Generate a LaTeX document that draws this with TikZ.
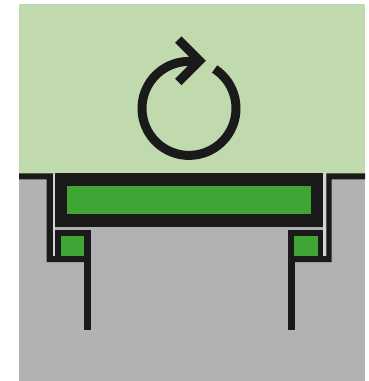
\documentclass[tikz,border=0pt]{standalone}
\usetikzlibrary{calc}
\definecolor{roomGreen}{HTML}{C1DAAD}
\definecolor{wallGrey}{HTML}{B1B2B4}
\definecolor{sealGreen}{HTML}{3FA535}
\definecolor{frameBlack}{HTML}{1A1A1A}
\definecolor{gapGrey}{HTML}{D4D5D6}
\begin{document}
\begin{tikzpicture}[x=1pt, y=-1pt,
    frame/.style={fill=frameBlack},
    seal/.style={fill=sealGreen},
    symbol/.style={draw=frameBlack, line width=9pt}]
    \useasboundingbox (0,0) rectangle (368,381);
    % backgrounds
    \fill[roomGreen] (19,4) rectangle (365,173.5);
    \fill[wallGrey] (19,173.5) rectangle (365,381);
    % outer walls with the slot
    \fill[frame] (19,173.3) -- (53.3,173.3) -- (53.3,256) -- (90.7,256) -- (90.7,262)
      -- (46.7,262) -- (46.7,179.3) -- (19,179.3) -- cycle;
    \fill[frame] (365,173.3) -- (326.3,173.3) -- (326.3,256) -- (288.3,256) -- (288.3,262)
      -- (331.7,262) -- (331.7,179.3) -- (365,179.3) -- cycle;
    \fill[gapGrey] (53.3,173.5) rectangle (54.7,256);
    \fill[gapGrey] (323.3,173.5) rectangle (326.3,256);
    % big panel
    \fill[frame] (54.7,173.3) rectangle (323.3,226.7);
    \fill[seal] (67.3,185.7) rectangle (311.3,214.3);
    % small blocks and stems
    \fill[frame] (54.7,230) rectangle (90.7,262);
    \fill[seal] (61,236) rectangle (84.3,255.7);
    \fill[frame] (84,262) rectangle (90.7,330.3);
    \fill[frame] (288.3,230) rectangle (323.3,262);
    \fill[seal] (294,236) rectangle (318,255.7);
    \fill[frame] (288.3,262) rectangle (294.7,330.3);
    % rotation symbol
    \draw[symbol] (189,108.4) ++(-57:47) arc[start angle=-57, end angle=278, radius=47];
    \draw[symbol, miter limit=4] (178.3,39.5) -- (199.5,60.7) -- (178.3,82);
\end{tikzpicture}
\end{document}
